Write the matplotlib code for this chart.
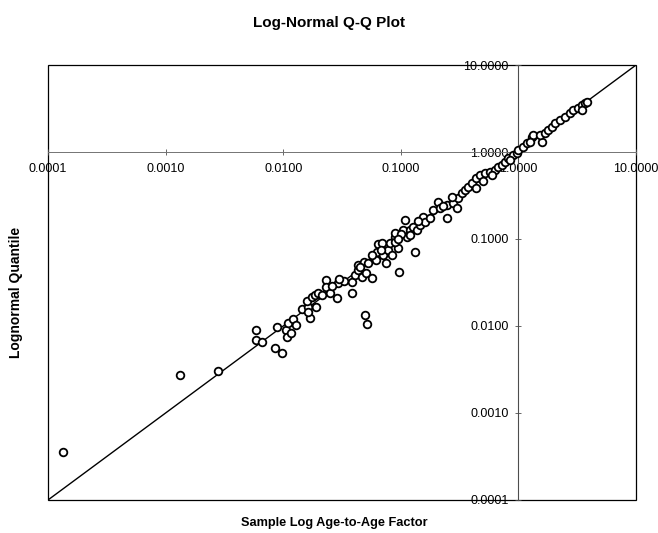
import matplotlib
matplotlib.use('Agg')
import matplotlib.pyplot as plt
from matplotlib.patches import Rectangle
from matplotlib.ticker import FixedLocator, FuncFormatter, NullLocator
import numpy as np

plt.rcParams['font.family'] = ['Liberation Sans', 'DejaVu Sans']

TITLE = 'Log-Normal Q-Q Plot'
XLABEL = 'Sample Log Age-to-Age Factor'
YLABEL = 'Lognormal Quantile'
TICKS = [0.0001, 0.001, 0.01, 0.1, 1.0, 10.0]

# values
sample = [0.000135, 0.00132, 0.0028, 0.00587, 0.00587, 0.00656, 0.0088, 0.0085, 0.0098,
    0.01057, 0.0107, 0.01164, 0.0110, 0.0122, 0.01276, 0.01435, 0.01637, 0.0169, 0.01637,
    0.01585, 0.01746, 0.01862, 0.019, 0.0199, 0.0212, 0.0231, 0.0231, 0.025, 0.0285,
    0.0294, 0.0329, 0.0382, 0.0382, 0.0408, 0.0436, 0.0436, 0.0465, 0.0506, 0.0486,
    0.053, 0.0497, 0.0519, 0.0565, 0.0583, 0.0624, 0.0644, 0.0687, 0.0745, 0.071,
    0.0783, 0.0838, 0.081, 0.0893, 0.0893, 0.097, 0.132, 0.0953, 0.0893, 0.1087,
    0.105, 0.112, 0.1197, 0.1276, 0.1365, 0.1455, 0.155, 0.1607, 0.177, 0.189,
    0.2085, 0.215, 0.245, 0.248, 0.28, 0.302, 0.308, 0.33, 0.352, 0.375,
    0.401, 0.436, 0.436, 0.471, 0.52, 0.574, 0.633, 0.675, 0.721, 0.769,
    0.82, 0.905, 0.966, 1.0, 1.10, 1.175, 1.30, 1.34, 1.256, 1.58,
    1.53, 1.68, 1.80, 1.92, 2.05, 2.26, 2.49, 2.75, 2.93, 3.23,
    3.45, 3.69, 3.81, 3.45,
    0.10, 0.095, 0.12, 0.14, 0.062, 0.057, 0.068, 0.045, 0.03, 0.026,
    0.5, 0.6, 0.85, 0.23, 0.27]
quantile = [0.000353, 0.00275, 0.00301, 0.0090, 0.0069, 0.0065, 0.00966, 0.00564, 0.00493,
    0.0090, 0.00753, 0.00824, 0.0107, 0.0120, 0.01026, 0.01556, 0.01667, 0.01225, 0.01459,
    0.01955, 0.02173, 0.0227, 0.01667, 0.02415, 0.0227, 0.0338, 0.0278, 0.0242, 0.0208,
    0.031, 0.0332, 0.0242, 0.0323, 0.0385, 0.044, 0.0502, 0.0369, 0.0403, 0.0548,
    0.0525, 0.01336, 0.01054, 0.0353, 0.0627, 0.0714, 0.0869, 0.0891, 0.0525, 0.0655,
    0.0748, 0.0655, 0.0891, 0.1064, 0.1164, 0.042, 0.0714, 0.0781, 0.093, 0.165,
    0.127, 0.1064, 0.127, 0.1387, 0.127, 0.145, 0.181, 0.158, 0.173, 0.2155,
    0.2685, 0.2255, 0.246, 0.176, 0.257, 0.2255, 0.294, 0.335, 0.365, 0.40,
    0.436, 0.383, 0.498, 0.545, 0.569, 0.594, 0.621, 0.678, 0.71, 0.774,
    0.847, 0.924, 0.966, 1.055, 1.15, 1.26, 1.50, 1.57, 1.31, 1.31,
    1.57, 1.64, 1.79, 1.95, 2.14, 2.34, 2.51, 2.79, 3.04, 3.18,
    3.47, 3.63, 3.79, 3.04,
    0.115, 0.10, 0.11, 0.16, 0.058, 0.065, 0.075, 0.048, 0.035, 0.029,
    0.46, 0.55, 0.8, 0.24, 0.3]

fig = plt.figure(figsize=(6.58, 5.33), dpi=100)
ax = fig.add_axes([0.073, 0.062, 0.8936, 0.816])
ax.set_xscale('log')
ax.set_yscale('log')
ax.set_xlim(TICKS[0], TICKS[-1])
ax.set_ylim(TICKS[0], TICKS[-1])

# reference line y = x
ax.plot([TICKS[0], TICKS[-1]], [TICKS[0], TICKS[-1]], color='black', lw=1.0, zorder=2)
ax.plot(sample, quantile, 'o', ms=5.5, mfc='white', mec='black', mew=1.3, zorder=3)

# axes cross at 1
ax.spines['left'].set_position(('data', 1.0))
ax.spines['bottom'].set_position(('data', 1.0))
ax.spines['left'].set_color('0.3')
ax.spines['bottom'].set_color('0.45')
ax.spines['left'].set_linewidth(0.8)
ax.spines['bottom'].set_linewidth(0.7)
ax.spines['top'].set_visible(False)
ax.spines['right'].set_visible(False)
ax.add_patch(Rectangle((0, 0), 1, 1, transform=ax.transAxes, fill=False,
                       edgecolor='black', lw=0.9, zorder=1, clip_on=False))

fmt = FuncFormatter(lambda v, p: '%.4f' % v)
for axis in (ax.xaxis, ax.yaxis):
    axis.set_major_locator(FixedLocator(TICKS))
    axis.set_minor_locator(NullLocator())
    axis.set_major_formatter(fmt)
ax.tick_params(axis='both', direction='inout', length=4, width=0.6, color='0.3',
               labelsize=9)
ax.tick_params(axis='x', pad=6)
ax.tick_params(axis='y', pad=5)

fig.text(0.5, 0.957, TITLE, ha='center', va='center', fontsize=11, fontweight='bold')
fig.text(0.508, 0.019, XLABEL, ha='center', va='center', fontsize=9.2, fontweight='bold')
fig.text(0.024, 0.452, YLABEL, ha='center', va='center', rotation=90, fontsize=10,
         fontweight='bold')

fig.savefig('out.png', dpi=100)
